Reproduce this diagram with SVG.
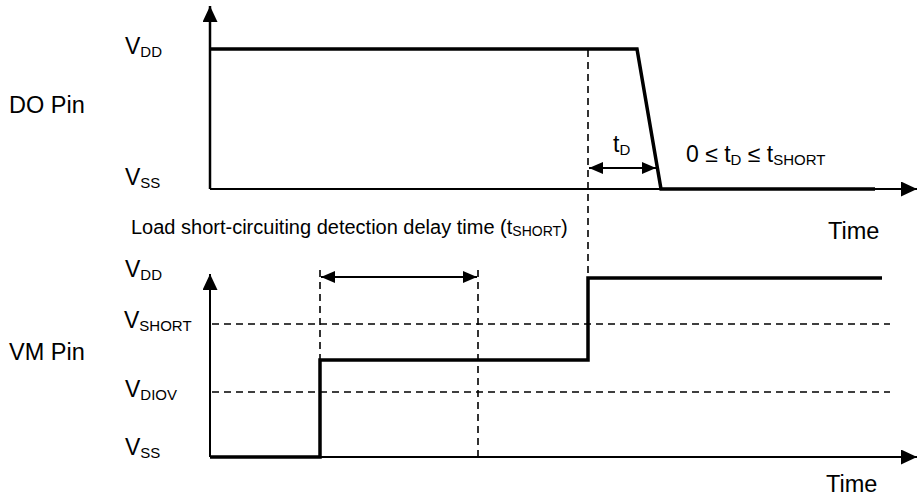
<svg xmlns="http://www.w3.org/2000/svg" width="918" height="497" viewBox="0 0 918 497">
<style>
text{font-family:"Liberation Sans",Arial,sans-serif;fill:#000}
.lbl{font-size:23px}
.pin{font-size:23.5px}
.sub{font-size:15px}
.note{font-size:20px}
.nsub{font-size:14px}
.axis{stroke:#000;stroke-width:2;fill:none}
.sig{stroke:#000;stroke-width:3.5;fill:none;stroke-linejoin:miter}
.dash{stroke:#000;stroke-width:1.6;fill:none;stroke-dasharray:7,5}
.dim{stroke:#000;stroke-width:2.2;fill:none}
</style>
<defs>
<marker id="ax" viewBox="0 0 16 15" refX="16" refY="7.5" markerWidth="16" markerHeight="15" markerUnits="userSpaceOnUse" orient="auto"><path d="M0,0 L16,7.5 L0,15 z" fill="#000"/></marker>
<marker id="dh" viewBox="0 0 14 12" refX="14" refY="6" markerWidth="14" markerHeight="12" markerUnits="userSpaceOnUse" orient="auto-start-reverse"><path d="M0,0 L14,6 L0,12 z" fill="#000"/></marker>
</defs>

<g id="labels">
<text class="pin" x="9" y="113">DO Pin</text>
<text class="pin" x="9" y="360">VM Pin</text>
<text class="lbl" x="125" y="54">V<tspan class="sub" dy="3">DD</tspan></text>
<text class="lbl" x="125" y="185">V<tspan class="sub" dy="3">SS</tspan></text>
<text class="lbl" x="125" y="277">V<tspan class="sub" dy="3">DD</tspan></text>
<text class="lbl" x="124" y="328">V<tspan class="sub" dy="3">SHORT</tspan></text>
<text class="lbl" x="125" y="397">V<tspan class="sub" dy="3">DIOV</tspan></text>
<text class="lbl" x="125" y="455">V<tspan class="sub" dy="3">SS</tspan></text>
<text class="note" x="131" y="234">Load short-circuiting detection delay time (t<tspan class="nsub" dy="2">SHORT</tspan><tspan dy="-2">)</tspan></text>
<text class="pin" x="828" y="239">Time</text>
<text class="pin" x="826" y="492">Time</text>
<text class="lbl" x="613" y="152">t<tspan class="sub" dy="3">D</tspan></text>
<text class="lbl" x="686" y="162">0 ≤ t<tspan class="sub" dy="3">D</tspan><tspan dy="-3"> ≤ t</tspan><tspan class="sub" dy="3">SHORT</tspan></text>
</g>

<g id="do-pin">
<path class="axis" d="M210,189 L210,6" marker-end="url(#ax)" style="stroke-width:2.5"/>
<path class="axis" d="M210,189 L917,189" marker-end="url(#ax)"/>
<path class="sig" d="M210,49 L637,49 L661,189 L875,189"/>
</g>

<g id="vm-pin">
<path class="axis" d="M210,457 L210,274" marker-end="url(#ax)"/>
<path class="axis" d="M210,457 L917,457" marker-end="url(#ax)"/>
<path class="dash" d="M212,324 L890,324"/>
<path class="dash" d="M212,392 L890,392"/>
<path class="sig" d="M210,457 L320,457 L320,360 L588,360 L588,278 L882,278"/>
</g>

<g id="connectors">
<path class="dash" d="M588,50 L588,278"/>
<path class="dash" d="M320,270 L320,457"/>
<path class="dash" d="M478,270 L478,457"/>
<path class="dim" d="M589,168 L656,168" marker-start="url(#dh)" marker-end="url(#dh)"/>
<path class="dim" d="M321,277 L477,277" marker-start="url(#dh)" marker-end="url(#dh)"/>
</g>
</svg>
